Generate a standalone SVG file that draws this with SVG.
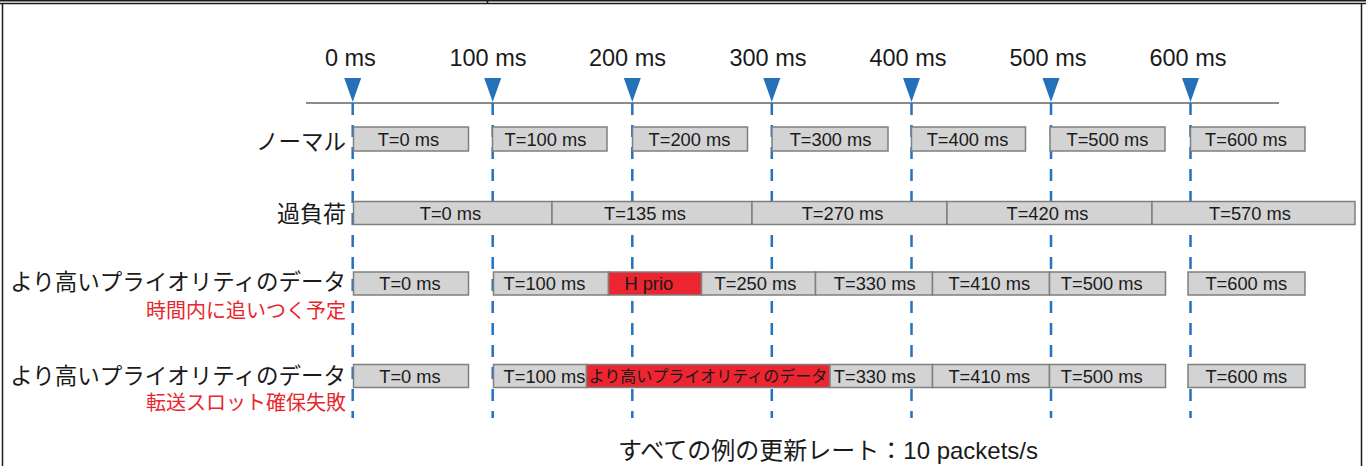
<svg xmlns="http://www.w3.org/2000/svg" width="1366" height="466" viewBox="0 0 1366 466">
<style>
.frame{stroke:#1a1a1a;stroke-width:1.5;fill:none}
.axis{stroke:#8c8c8c;stroke-width:2;fill:none}
.guide{stroke:#2472c0;stroke-width:2.5;stroke-dasharray:12 10;fill:none}
.tri{fill:#2471b9}
.hdr{font-family:"Liberation Sans",Arial,sans-serif;font-size:23.5px;fill:#1a1a1a;text-anchor:middle}
.box{fill:#d3d3d3;stroke:#7f7f7f;stroke-width:1.5}
.red{fill:#ed2530;stroke:#7f7f7f;stroke-width:1.5}
.bt{font-family:"Liberation Sans",Arial,sans-serif;font-size:18.3px;fill:#1a1a1a;text-anchor:middle}
.bj{font-family:"Liberation Sans","Noto Sans CJK JP",sans-serif;font-size:16px;fill:#1a1a1a;text-anchor:middle}
.lbl{font-family:"Liberation Sans","Noto Sans CJK JP",sans-serif;font-size:22.5px;fill:#1a1a1a;text-anchor:end}
.sub{font-family:"Liberation Sans","Noto Sans CJK JP",sans-serif;font-size:20px;fill:#e8262c;text-anchor:end}
.foot{font-family:"Liberation Sans","Noto Sans CJK JP",sans-serif;font-size:24px;fill:#1a1a1a;text-anchor:middle}
</style>
<rect width="1366" height="466" fill="#ffffff"/>
<g id="frame">
<line class="frame" x1="0" y1="0.75" x2="1366" y2="0.75"/>
<line class="frame" x1="0" y1="3.5" x2="1366" y2="3.5"/>
<line class="frame" x1="487.5" y1="0" x2="487.5" y2="3.5"/>
<line class="frame" x1="2.5" y1="3.5" x2="2.5" y2="466"/>
<line class="frame" x1="1361.5" y1="3.5" x2="1361.5" y2="466"/>
</g>
<g id="connectors">
<line class="axis" x1="306" y1="103" x2="1279" y2="103"/>
<line class="guide" x1="352.7" y1="103" x2="352.7" y2="418"/>
<line class="guide" x1="492.7" y1="103" x2="492.7" y2="418"/>
<line class="guide" x1="632.3" y1="103" x2="632.3" y2="418"/>
<line class="guide" x1="771.8" y1="103" x2="771.8" y2="418"/>
<line class="guide" x1="911.5" y1="103" x2="911.5" y2="418"/>
<line class="guide" x1="1051" y1="103" x2="1051" y2="418"/>
<line class="guide" x1="1190.5" y1="103" x2="1190.5" y2="418"/>
</g>
<g id="timeline">
<polygon class="tri" points="344.2,78 361.2,78 352.7,102"/>
<polygon class="tri" points="484.2,78 501.2,78 492.7,102"/>
<polygon class="tri" points="623.8,78 640.8,78 632.3,102"/>
<polygon class="tri" points="763.3,78 780.3,78 771.8,102"/>
<polygon class="tri" points="903,78 920,78 911.5,102"/>
<polygon class="tri" points="1042.5,78 1059.5,78 1051,102"/>
<polygon class="tri" points="1182,78 1199,78 1190.5,102"/>
<text class="hdr" x="350.4" y="66">0 ms</text>
<text class="hdr" x="488" y="66">100 ms</text>
<text class="hdr" x="627.5" y="66">200 ms</text>
<text class="hdr" x="768" y="66">300 ms</text>
<text class="hdr" x="908" y="66">400 ms</text>
<text class="hdr" x="1048" y="66">500 ms</text>
<text class="hdr" x="1188" y="66">600 ms</text>
</g>
<g id="row-normal">
<text class="lbl" x="346" y="150">ノーマル</text>
<rect class="box" x="353.5" y="127" width="115" height="24"/><text class="bt" x="408.4" y="146">T=0 ms</text>
<rect class="box" x="492.5" y="127" width="114.5" height="24"/><text class="bt" x="545.5" y="146">T=100 ms</text>
<rect class="box" x="632.5" y="127" width="115" height="24"/><text class="bt" x="689.5" y="146">T=200 ms</text>
<rect class="box" x="772" y="127" width="116" height="24"/><text class="bt" x="830.6" y="146">T=300 ms</text>
<rect class="box" x="911.5" y="127" width="114" height="24"/><text class="bt" x="967.6" y="146">T=400 ms</text>
<rect class="box" x="1050" y="127" width="115" height="24"/><text class="bt" x="1107.4" y="146">T=500 ms</text>
<rect class="box" x="1190.5" y="127" width="114.5" height="24"/><text class="bt" x="1246" y="146">T=600 ms</text>
</g>
<g id="row-overload">
<text class="lbl" x="346" y="221.5" style="font-size:23px">過負荷</text>
<rect class="box" x="353.5" y="201.5" width="198.5" height="23"/><text class="bt" x="450.5" y="219.5">T=0 ms</text>
<rect class="box" x="552" y="201.5" width="200" height="23"/><text class="bt" x="645" y="219.5">T=135 ms</text>
<rect class="box" x="752" y="201.5" width="195" height="23"/><text class="bt" x="842.6" y="219.5">T=270 ms</text>
<rect class="box" x="947" y="201.5" width="205" height="23"/><text class="bt" x="1047.4" y="219.5">T=420 ms</text>
<rect class="box" x="1152" y="201.5" width="203" height="23"/><text class="bt" x="1250" y="219.5">T=570 ms</text>
</g>
<g id="row-priority-ok">
<text class="lbl" x="346" y="290">より高いプライオリティのデータ</text>
<text class="sub" x="346" y="318">時間内に追いつく予定</text>
<rect class="box" x="353.5" y="272" width="115" height="23"/><text class="bt" x="410" y="290">T=0 ms</text>
<rect class="box" x="493.5" y="272" width="115" height="23"/><text class="bt" x="544.5" y="290">T=100 ms</text>
<rect class="red" x="608.5" y="272" width="93" height="23"/><text class="bt" x="648.8" y="290">H prio</text>
<rect class="box" x="701.5" y="272" width="114" height="23"/><text class="bt" x="755.5" y="290">T=250 ms</text>
<rect class="box" x="815.5" y="272" width="117" height="23"/><text class="bt" x="874.7" y="290">T=330 ms</text>
<rect class="box" x="932.5" y="272" width="117" height="23"/><text class="bt" x="989.3" y="290">T=410 ms</text>
<rect class="box" x="1049.5" y="272" width="116" height="23"/><text class="bt" x="1101.7" y="290">T=500 ms</text>
<rect class="box" x="1188" y="272" width="117" height="23"/><text class="bt" x="1246.3" y="290">T=600 ms</text>
</g>
<g id="row-priority-fail">
<text class="lbl" x="346" y="383.5">より高いプライオリティのデータ</text>
<text class="sub" x="346" y="409.5">転送スロット確保失敗</text>
<rect class="box" x="353.5" y="364.5" width="115" height="23"/><text class="bt" x="410" y="383">T=0 ms</text>
<rect class="box" x="493.5" y="364.5" width="93" height="23"/><text class="bt" x="544.5" y="383">T=100 ms</text>
<rect class="red" x="586.5" y="364.5" width="243.5" height="23"/><text class="bj" x="708" y="382">より高いプライオリティのデータ</text>
<rect class="box" x="830" y="364.5" width="102.5" height="23"/><text class="bt" x="874.7" y="383">T=330 ms</text>
<rect class="box" x="932.5" y="364.5" width="117" height="23"/><text class="bt" x="989.3" y="383">T=410 ms</text>
<rect class="box" x="1049.5" y="364.5" width="116" height="23"/><text class="bt" x="1101.7" y="383">T=500 ms</text>
<rect class="box" x="1188" y="364.5" width="117" height="23"/><text class="bt" x="1246.3" y="383">T=600 ms</text>
</g>
<g id="footer">
<text class="foot" x="828" y="459">すべての例の更新レート：10 packets/s</text>
</g>
</svg>
